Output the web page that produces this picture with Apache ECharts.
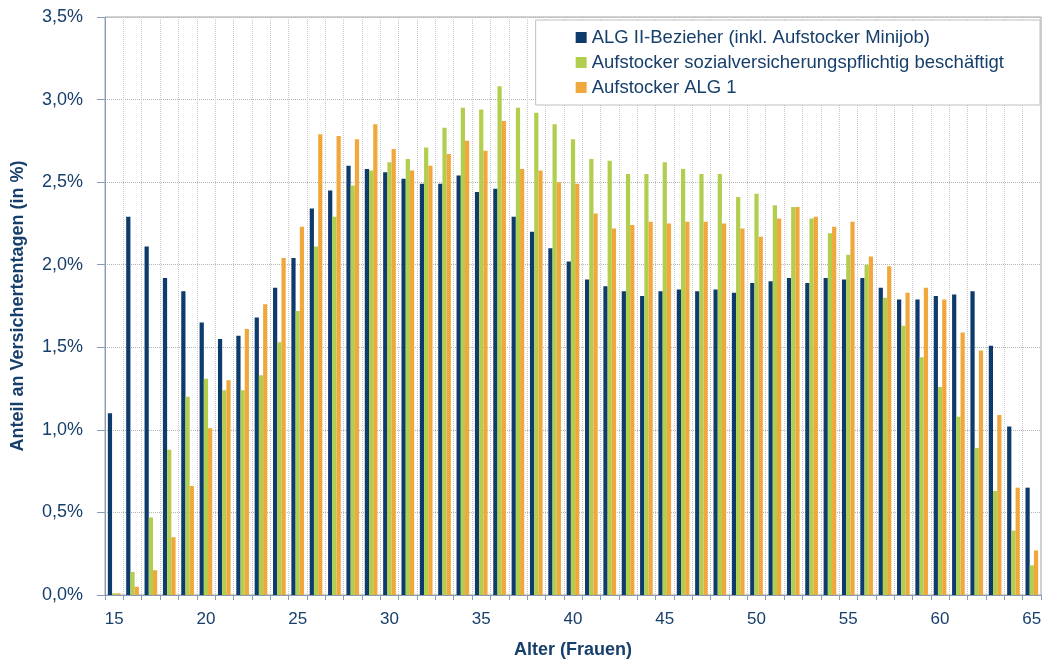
<!DOCTYPE html>
<html>
<head>
<meta charset="utf-8">
<script src="https://cdn.jsdelivr.net/npm/echarts@6/dist/echarts.min.js"></script>
<style>
  html, body { margin: 0; padding: 0; background: #fff; }
  #chart { width: 1046px; height: 664px; }
</style>
</head>
<body>
<div id="chart"></div>
<script>
// Alter 15..65
const ages = []
for (let a = 15; a <= 65; a++) ages.push(String(a))

const seriesNames = [
  'ALG II-Bezieher (inkl. Aufstocker Minijob)',
  'Aufstocker sozialversicherungspflichtig beschäftigt',
  'Aufstocker ALG 1'
]

// Anteil an Versichertentagen in %
const algII = [1.10, 2.29, 2.11, 1.92, 1.84, 1.65, 1.55, 1.57, 1.68, 1.86,
  2.04, 2.34, 2.45, 2.60, 2.58, 2.56, 2.52, 2.49, 2.49, 2.54,
  2.44, 2.46, 2.29, 2.20, 2.10, 2.02, 1.91, 1.87, 1.84, 1.81,
  1.84, 1.85, 1.84, 1.85, 1.83, 1.89, 1.90, 1.92, 1.89, 1.92,
  1.91, 1.92, 1.86, 1.79, 1.79, 1.81, 1.82, 1.84, 1.51, 1.02, 0.65]

const svBeschaeftigt = [0.01, 0.14, 0.47, 0.88, 1.20, 1.31, 1.24, 1.24, 1.33, 1.53,
  1.72, 2.11, 2.29, 2.48, 2.57, 2.62, 2.64, 2.71, 2.83, 2.95,
  2.94, 3.08, 2.95, 2.92, 2.85, 2.76, 2.64, 2.63, 2.55, 2.55,
  2.62, 2.58, 2.55, 2.55, 2.41, 2.43, 2.36, 2.35, 2.28, 2.19,
  2.06, 2.00, 1.80, 1.63, 1.44, 1.26, 1.08, 0.89, 0.63, 0.39, 0.18]

const aufstockerAlg1 = [0.01, 0.05, 0.15, 0.35, 0.66, 1.01, 1.30, 1.61, 1.76, 2.04,
  2.23, 2.79, 2.78, 2.76, 2.85, 2.70, 2.57, 2.60, 2.67, 2.75,
  2.69, 2.87, 2.58, 2.57, 2.50, 2.49, 2.31, 2.22, 2.24, 2.26,
  2.25, 2.26, 2.26, 2.25, 2.22, 2.17, 2.28, 2.35, 2.29, 2.23,
  2.26, 2.05, 1.99, 1.83, 1.86, 1.79, 1.59, 1.48, 1.09, 0.65, 0.27]

const colors = ['#0d3b6c', '#b2ce4f', '#f0a83c']
const textColor = '#173f6b'
const font = "'Liberation Sans', sans-serif"

const chart = echarts.init(document.getElementById('chart'), null, { renderer: 'canvas' })

const makeSeries = (name, data, color) => ({
  name: name,
  type: 'bar',
  data: data,
  barWidth: '23%',
  barGap: '0%',
  itemStyle: { color: color },
  animation: false
})

chart.setOption({
  textStyle: { fontFamily: font },
  grid: {
    left: 105,
    right: 5,
    top: 17,
    bottom: 66,
    show: true,
    borderColor: '#a6a6a6',
    borderWidth: 1
  },
  legend: {
    data: seriesNames,
    orient: 'vertical',
    top: 20,
    right: 6,
    icon: 'rect',
    itemWidth: 11,
    itemHeight: 11,
    itemGap: 6,
    padding: [8, 36, 8, 40],
    backgroundColor: '#fff',
    borderColor: '#bfbfbf',
    borderWidth: 1,
    textStyle: { fontFamily: font, fontSize: 18.5, color: textColor }
  },
  xAxis: {
    type: 'category',
    data: ages,
    name: 'Alter (Frauen)',
    nameLocation: 'middle',
    nameGap: 46,
    nameTextStyle: { fontFamily: font, fontSize: 18, fontWeight: 'bold', color: textColor },
    axisLine: { lineStyle: { color: '#8a9bb5', width: 1 } },
    axisTick: { show: true, interval: 0, length: 5, lineStyle: { color: '#8a9bb5' } },
    axisLabel: { interval: 4, margin: 16, fontSize: 17, color: textColor },
    splitLine: { show: true, interval: 0, lineStyle: { color: '#c8c8c8', type: 'dotted' } }
  },
  yAxis: {
    type: 'value',
    min: 0,
    max: 3.5,
    interval: 0.5,
    name: 'Anteil an Versichertentagen (in %)',
    nameLocation: 'middle',
    nameGap: 78,
    nameTextStyle: { fontFamily: font, fontSize: 18, fontWeight: 'bold', color: textColor },
    axisLine: { show: true, lineStyle: { color: '#8a9bb5', width: 1 } },
    axisTick: { show: true, length: 8, lineStyle: { color: '#8a9bb5' } },
    axisLabel: {
      fontSize: 18,
      color: textColor,
      margin: 22,
      formatter: v => v.toFixed(1).replace('.', ',') + '%'
    },
    splitLine: { show: true, lineStyle: { color: '#b4b4b4', type: 'dotted' } }
  },
  series: [
    makeSeries(seriesNames[0], algII, colors[0]),
    makeSeries(seriesNames[1], svBeschaeftigt, colors[1]),
    makeSeries(seriesNames[2], aufstockerAlg1, colors[2])
  ]
})
</script>
</body>
</html>
